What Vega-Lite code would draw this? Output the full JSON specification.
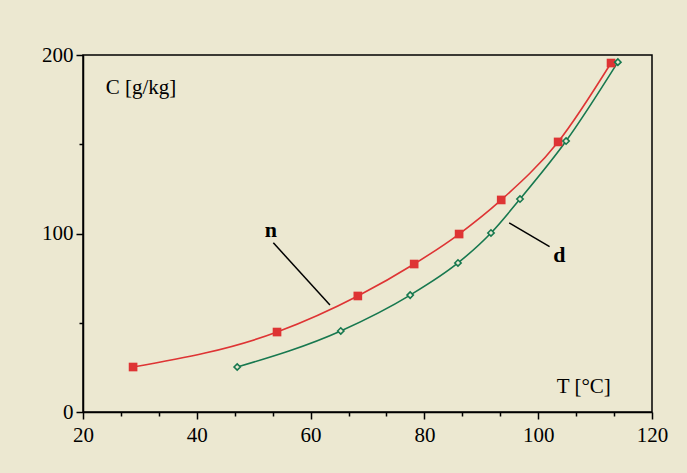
{
  "$schema": "https://vega.github.io/schema/vega-lite/v6.json",
  "width": 569,
  "height": 357,
  "autosize": "none",
  "padding": {"left": 83, "top": 55, "right": 35, "bottom": 61},
  "background": "#ece8d1",
  "config": {
    "view": {"stroke": "black", "strokeWidth": 1.5},
    "axis": {
      "domainColor": "black", "domainWidth": 1.5, "tickColor": "black", "tickWidth": 1.5,
      "labelFont": "Liberation Serif", "labelFontSize": 21, "labelColor": "black", "grid": false, "title": null,
      "labelFlush": false, "labelOverlap": false
    },
    "text": {"font": "Liberation Serif", "color": "black"}
  },
  "datasets": {
    "curves": [
      {"series": "n", "T": 28.8, "C": 25.2},
      {"series": "n", "T": 54.1, "C": 44.8},
      {"series": "n", "T": 68.3, "C": 65.0},
      {"series": "n", "T": 78.2, "C": 82.9},
      {"series": "n", "T": 86.1, "C": 99.7},
      {"series": "n", "T": 93.5, "C": 118.8},
      {"series": "n", "T": 103.5, "C": 151.3},
      {"series": "n", "T": 112.8, "C": 195.5},
      {"series": "d", "T": 47.1, "C": 25.2},
      {"series": "d", "T": 65.3, "C": 45.4},
      {"series": "d", "T": 77.5, "C": 65.5},
      {"series": "d", "T": 85.9, "C": 83.5},
      {"series": "d", "T": 91.7, "C": 100.3},
      {"series": "d", "T": 96.8, "C": 119.3},
      {"series": "d", "T": 104.9, "C": 151.8},
      {"series": "d", "T": 114.0, "C": 196.0}
    ],
    "leaders": [
      {"T": 53.45, "C": 94.8, "T2": 63.4, "C2": 59.9},
      {"T": 94.9, "C": 106.0, "T2": 102.0, "C2": 92.6}
    ],
    "labels": [
      {"label": "C [g/kg]", "T": 24.0, "C": 181.5, "kind": "axis"},
      {"label": "T [°C]", "T": 103.25, "C": 14.2, "kind": "axis"},
      {"label": "n", "T": 53.0, "C": 98.0, "kind": "curve"},
      {"label": "d", "T": 103.7, "C": 84.0, "kind": "curve"}
    ]
  },
  "layer": [
    {
      "data": {"name": "curves"},
      "mark": {"type": "line", "interpolate": "monotone", "strokeWidth": 1.6},
      "encoding": {
        "x": {"field": "T", "type": "quantitative", "scale": {"domain": [20, 120], "nice": false, "zero": false},
              "axis": {"orient": "bottom", "values": [20, 40, 60, 80, 100, 120], "tickSize": 7, "labelPadding": 5}},
        "y": {"field": "C", "type": "quantitative", "scale": {"domain": [0, 200], "nice": false},
              "axis": {"orient": "left", "values": [0, 100, 200], "tickSize": 7, "labelPadding": 3}},
        "color": {"field": "series", "type": "nominal", "scale": {"domain": ["n", "d"], "range": ["#de3434", "#17784f"]}, "legend": null}
      }
    },
    {
      "data": {"name": "curves"},
      "transform": [{"filter": "datum.series === 'n'"}],
      "mark": {"type": "point", "shape": "square", "filled": true, "size": 75, "color": "#de3434", "opacity": 1},
      "encoding": {
        "x": {"field": "T", "type": "quantitative", "axis": null},
        "y": {"field": "C", "type": "quantitative", "axis": null}
      }
    },
    {
      "data": {"name": "curves"},
      "transform": [{"filter": "datum.series === 'd'"}],
      "mark": {"type": "point", "shape": "diamond", "filled": false, "size": 40, "color": "#17784f", "strokeWidth": 1.6, "fill": "#ece8d1", "fillOpacity": 1, "opacity": 1},
      "encoding": {
        "x": {"field": "T", "type": "quantitative", "axis": null},
        "y": {"field": "C", "type": "quantitative", "axis": null}
      }
    },
    {
      "data": {"name": "leaders"},
      "mark": {"type": "rule", "color": "black", "strokeWidth": 1.5},
      "encoding": {
        "x": {"field": "T", "type": "quantitative",
              "axis": {"orient": "bottom", "values": [26.667, 33.333, 46.667, 53.333, 66.667, 73.333, 86.667, 93.333, 106.667, 113.333], "labels": false, "domain": false, "tickSize": 4}},
        "y": {"field": "C", "type": "quantitative",
              "axis": {"orient": "left", "values": [50, 150], "labels": false, "domain": false, "tickSize": 4}},
        "x2": {"field": "T2"},
        "y2": {"field": "C2"}
      }
    },
    {
      "data": {"name": "labels"},
      "transform": [{"filter": "datum.kind === 'axis'"}],
      "mark": {"type": "text", "align": "left", "baseline": "middle", "fontSize": 21},
      "encoding": {
        "x": {"field": "T", "type": "quantitative", "axis": null},
        "y": {"field": "C", "type": "quantitative", "axis": null},
        "text": {"field": "label"}
      }
    },
    {
      "data": {"name": "labels"},
      "transform": [{"filter": "datum.kind === 'curve'"}],
      "mark": {"type": "text", "align": "center", "baseline": "alphabetic", "fontSize": 22, "fontWeight": "bold"},
      "encoding": {
        "x": {"field": "T", "type": "quantitative", "axis": null},
        "y": {"field": "C", "type": "quantitative", "axis": null},
        "text": {"field": "label"}
      }
    }
  ],
  "resolve": {"axis": {"x": "independent", "y": "independent"}}
}
